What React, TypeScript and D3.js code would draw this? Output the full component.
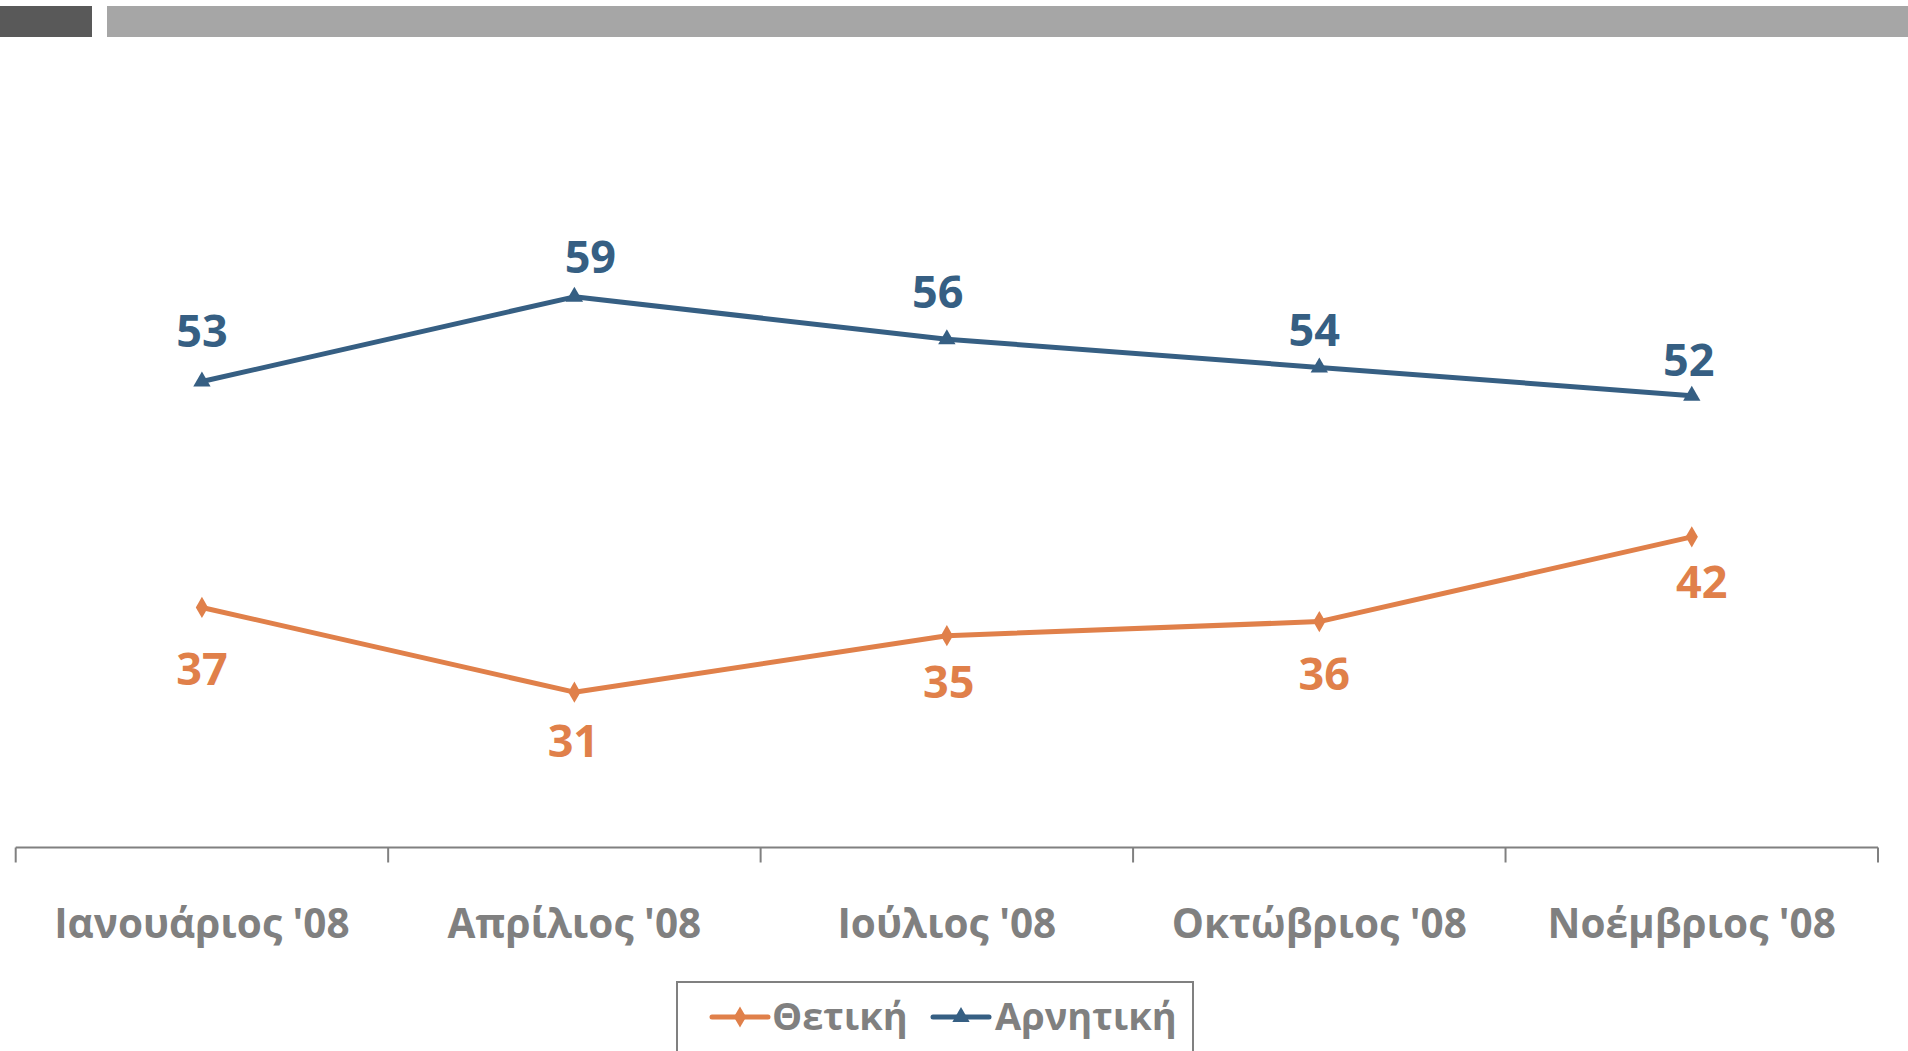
import React, { useEffect, useRef } from 'react';
import * as d3 from 'd3';

const categories = ["Ιανουάριος '08", "Απρίλιος '08", "Ιούλιος '08", "Οκτώβριος '08", "Νοέμβριος '08"];
const seriesNames = ['Θετική', 'Αρνητική'];
const positiveValues = [37, 31, 35, 36, 42];
const negativeValues = [53, 59, 56, 54, 52];

// small hand nudges for the value labels, as in the original
const positiveNudge = [[0, 78], [-1, 65], [2, 62], [5, 68], [10, 61]];
const negativeNudge = [[0, -35], [16, -24], [-9, -31], [-5, -21], [-3, -20]];

const W = 1908;
const H = 1051;
const ORANGE = '#E0804A';
const BLUE = '#365F83';
const GREY = '#808080';
const FONT = '"Open Sans", "Noto Sans", sans-serif';

const App = () => {
  const ref = useRef<SVGSVGElement | null>(null);

  useEffect(() => {
    if (!ref.current) return;
    const svg = d3.select(ref.current);
    svg.selectAll('*').remove();

    // header bars
    svg.append('rect').attr('x', 0).attr('y', 6).attr('width', 92).attr('height', 31).attr('fill', '#595959');
    svg.append('rect').attr('x', 107).attr('y', 6).attr('width', W - 107).attr('height', 31).attr('fill', '#A6A6A6');

    const x = d3.scaleBand<string>()
      .domain(categories)
      .range([15.7, 1878])
      .padding(0);
    const cx = (c: string) => (x(c) as number) + x.bandwidth() / 2;

    const y = d3.scaleLinear()
      .domain([20, 70])
      .range([847.5, 141.5]);

    // category axis
    const axis = svg.append('g').attr('class', 'x-axis');
    axis.append('line')
      .attr('x1', x.range()[0]).attr('x2', x.range()[1])
      .attr('y1', y(20)).attr('y2', y(20))
      .attr('stroke', GREY).attr('stroke-width', 2);
    const edges = categories.map(c => x(c) as number).concat([x.range()[1]]);
    axis.selectAll('.tick')
      .data(edges)
      .enter().append('line')
      .attr('x1', d => d).attr('x2', d => d)
      .attr('y1', y(20)).attr('y2', y(20) + 15)
      .attr('stroke', GREY).attr('stroke-width', 2);
    axis.selectAll('.lbl')
      .data(categories)
      .enter().append('text')
      .attr('x', d => cx(d))
      .attr('y', 938)
      .attr('text-anchor', 'middle')
      .style('font-family', FONT)
      .style('font-weight', 700)
      .style('font-size', '40.5px')
      .style('fill', GREY)
      .text(d => d);

    const line = d3.line<number>()
      .x((d, i) => cx(categories[i]))
      .y(d => y(d));

    const series = [
      { name: seriesNames[0], values: positiveValues, color: ORANGE, marker: d3.symbolDiamond, nudge: positiveNudge },
      { name: seriesNames[1], values: negativeValues, color: BLUE, marker: d3.symbolTriangle, nudge: negativeNudge },
    ];

    series.forEach(s => {
      svg.append('path')
        .datum(s.values)
        .attr('fill', 'none')
        .attr('stroke', s.color)
        .attr('stroke-width', 5)
        .attr('stroke-linejoin', 'round')
        .attr('d', line);

      svg.selectAll(null)
        .data(s.values)
        .enter().append('path')
        .attr('d', d3.symbol(s.marker, 130)())
        .attr('transform', (d, i) => `translate(${cx(categories[i])},${y(d)})`)
        .attr('fill', s.color);

      svg.selectAll(null)
        .data(s.values)
        .enter().append('text')
        .attr('x', (d, i) => cx(categories[i]) + s.nudge[i][0])
        .attr('y', (d, i) => y(d) + s.nudge[i][1])
        .attr('text-anchor', 'middle')
        .style('font-family', FONT)
        .style('font-weight', 700)
        .style('font-size', '45px')
        .style('fill', s.color)
        .text(d => d);
    });

    // legend
    const legend = svg.append('g').attr('class', 'legend');
    legend.append('rect')
      .attr('x', 677).attr('y', 982).attr('width', 516).attr('height', 100)
      .attr('fill', 'white').attr('stroke', GREY).attr('stroke-width', 2);

    const items = [
      { x: 712, textX: 772 },
      { x: 933, textX: 995 },
    ];
    series.forEach((s, i) => {
      const it = items[i];
      legend.append('line')
        .attr('x1', it.x).attr('x2', it.x + 56)
        .attr('y1', 1017).attr('y2', 1017)
        .attr('stroke', s.color).attr('stroke-width', 5)
        .attr('stroke-linecap', 'round');
      legend.append('path')
        .attr('d', d3.symbol(s.marker, 130)())
        .attr('transform', `translate(${it.x + 28},1017)`)
        .attr('fill', s.color);
      legend.append('text')
        .attr('x', it.textX)
        .attr('y', 1030)
        .style('font-family', FONT)
        .style('font-weight', 700)
        .style('font-size', '38px')
        .style('fill', GREY)
        .text(s.name);
    });
  }, []);

  return (
    <div style={{ position: 'absolute', left: 0, top: 0, width: W, height: H, background: 'white' }}>
      <svg ref={ref} width={W} height={H} style={{ display: 'block' }} />
    </div>
  );
};

export default App;
